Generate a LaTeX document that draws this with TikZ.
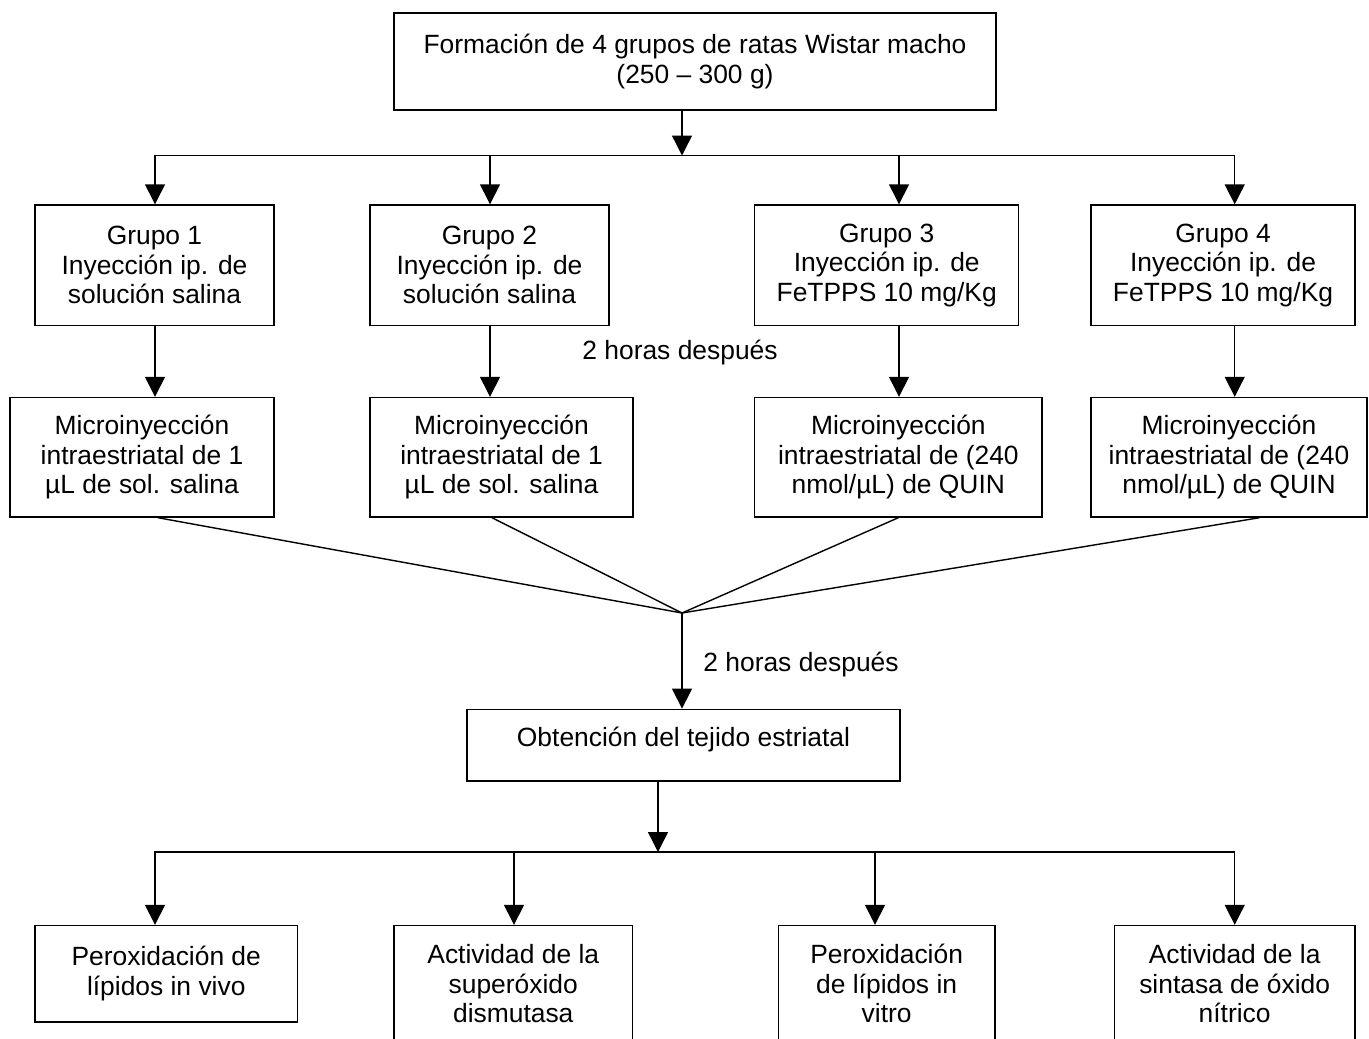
\documentclass[tikz,border=0pt]{standalone}
\usepackage{fontspec}
\setmainfont{Liberation Sans}
\usetikzlibrary{arrows.meta,calc}

\begin{document}
\begin{tikzpicture}[x=0.5pt,y=-0.5pt,
	box/.style={draw,line width=0.7pt,align=center,inner sep=0pt,font=\fontsize{13.2}{14.75}\selectfont},
	txt/.style={inner sep=0pt,font=\fontsize{13.2}{14.75}\selectfont},
	line/.style={line width=0.7pt},
	arr/.style={line width=0.7pt,-{Triangle[length=10pt,width=10pt]}},
	arrs/.style={line width=0.7pt,{Triangle[length=10pt,width=10pt]}-{Triangle[length=10pt,width=10pt]}}]
\useasboundingbox (0,0) rectangle (1369,1038);
\clip (0,0) rectangle (1369,1038);
%start
\node[box,minimum width=301pt,minimum height=48.5pt] (start) at (695,61.5) {Formación de 4 grupos de ratas Wistar macho\\(250 – 300 g)};
%groups
\node[box,minimum width=119.5pt,minimum height=60.25pt] (g1) at (154.5,265.25) {Grupo 1\\Inyección ip. de\\solución salina};
\node[box,minimum width=119.5pt,minimum height=60.25pt] (g2) at (489.5,265.25) {Grupo 2\\Inyección ip. de\\solución salina};
\node[box,minimum width=132pt,minimum height=60.25pt] (g3) at (886.7,265.25) {Grupo 3\\Inyección ip. de\\FeTPPS 10 mg/Kg};
\node[box,minimum width=132pt,minimum height=60.25pt] (g4) at (1223,265.25) {Grupo 4\\Inyección ip. de\\FeTPPS 10 mg/Kg};
\node[txt] (lbl1) at (680,353) {2 horas después};
%microinjection
\node[box,minimum width=132pt,minimum height=59.75pt] (m1) at (142,457.25) {Microinyección\\intraestriatal de 1\\µL de sol. salina};
\node[box,minimum width=131.5pt,minimum height=59.75pt] (m2) at (501.5,457.25) {Microinyección\\intraestriatal de 1\\µL de sol. salina};
\node[box,minimum width=143.65pt,minimum height=59.75pt] (m3) at (898.35,457.25) {Microinyección\\intraestriatal de (240\\nmol/µL) de QUIN};
\node[box,minimum width=138pt,minimum height=59.75pt] (m4) at (1229,457.25) {Microinyección\\intraestriatal de (240\\nmol/µL) de QUIN};
%tissue
\node[txt,anchor=west] (lbl2) at (703,665) {2 horas después};
\node[box,minimum width=216.5pt,text height=18.4pt,text depth=17.45pt] (obt) at (683.5,745.15) {Obtención del tejido estriatal};
%assays
\node[box,minimum width=131.25pt,minimum height=48.25pt] (b1) at (166.25,973.75) {Peroxidación de\\lípidos in vivo};
\node[box,minimum width=119.25pt,minimum height=58.25pt] (b2) at (513.25,983.75) {Actividad de la\\superóxido\\dismutasa};
\node[box,minimum width=108.35pt,minimum height=58.25pt] (b3) at (886.65,983.75) {Peroxidación\\de lípidos in\\vitro};
\node[box,minimum width=120.35pt,minimum height=58.25pt] (b4) at (1234.65,983.75) {Actividad de la\\sintasa de óxido\\nítrico};
%branch points
\coordinate (split1) at (682,155.5);
\coordinate (t1) at (155,155.5);
\coordinate (t2) at (490,155.5);
\coordinate (t3) at (899,155.5);
\coordinate (t4) at (1234.7,155.5);
\coordinate (join) at (682,613);
\coordinate (split2) at (658,852);
\coordinate (s1) at (155,852);
\coordinate (s2) at (514,852);
\coordinate (s3) at (875,852);
\coordinate (s4) at (1234.7,852);
%top bus
\draw[arr] (start.south -| split1) -- (split1);
\draw[arrs] (t1 |- g1.north) -- (t1) -- (t4) -- (t4 |- g4.north);
\draw[arr] (t2) -- (t2 |- g2.north);
\draw[arr] (t3) -- (t3 |- g3.north);
\foreach \i in {1,...,4}
	\draw[arr] (t\i |- g\i.south) -- (t\i |- m\i.north);
%merge
\draw[line] ($(m1.south west)!0.56!(m1.south east)$) -- (join);
\draw[line] ($(m2.south west)!0.464!(m2.south east)$) -- (join);
\draw[line] (m3.south) -- (join);
\draw[line] ($(m4.south west)!0.61!(m4.south east)$) -- (join);
\draw[arr] (join) -- (join |- obt.north);
%bottom bus
\draw[arr] (obt.south -| split2) -- (split2);
\draw[arrs] (s1 |- b1.north) -- (s1) -- (s4) -- (s4 |- b4.north);
\draw[arr] (s2) -- (s2 |- b2.north);
\draw[arr] (s3) -- (s3 |- b3.north);
\end{tikzpicture}
\end{document}
